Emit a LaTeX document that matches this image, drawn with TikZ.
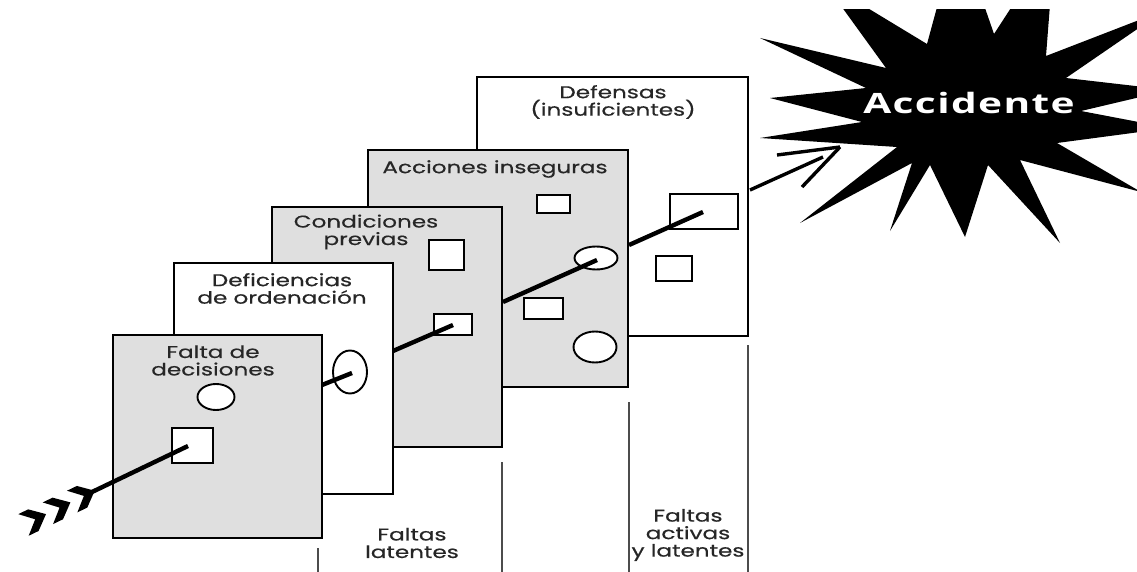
\documentclass[tikz,border=0pt]{standalone}
\usepackage{fontspec}
\setmainfont{Poppins}[FakeStretch=1.36, FakeBold=0.5]
\newfontfamily\accfont{Open Sans}[FakeStretch=1.45, LetterSpace=5]
\usetikzlibrary{shapes.geometric}
\definecolor{panelgray}{RGB}{223,223,223}
\begin{document}
\begin{tikzpicture}[x=1pt,y=-1pt,
  panel/.style={draw=black, line width=2.8pt},
  hole/.style={draw=black, line width=1.9pt, fill=white, inner sep=0pt, outer sep=0pt},
  rhole/.style={hole, rectangle},
  ehole/.style={hole, ellipse},
  shaft/.style={line width=4.4pt, line cap=butt},
  barb/.style={line width=3.4pt, line cap=butt},
  lbl/.style={font=\fontsize{17}{17.5}\selectfont, text=black!85, align=center, inner sep=0pt},
  guide/.style={draw=black!70, line width=1.3pt},
  chev/.style={fill=black}
]
\useasboundingbox (0,0) rectangle (1137,572);
\fill[white] (0,0) rectangle (1137,572);

% ---- star ----
\begin{scope}
\clip (700,10) rectangle (1137,300);
\fill[black] plot coordinates {
 (760,138) (862,122) (770,98) (866,88) (760,38) (886,68) (823,-19)
 (927,44) (958,-70) (994,34) (1055,-60) (1046,56) (1165,10)
 (1066,78) (1170,90) (1081,111) (1170,128) (1057,143) (1141,192)
 (1020,160) (1060,243) (988,165) (965,237) (930,165) (890,231)
 (912,163) (800,223) (897,147)} -- cycle;
\end{scope}
\node[font=\accfont\bfseries\fontsize{28}{28}\selectfont, text=white, inner sep=0pt] (acc) at (969,103) {Accidente};

% ---- guides and bottom labels ----
\coordinate (g1a) at (318,548); \coordinate (g1b) at (318,572);
\coordinate (g2a) at (502,462); \coordinate (g2b) at (502,572);
\coordinate (g3a) at (629,402); \coordinate (g3b) at (629,572);
\coordinate (g4a) at (748,345); \coordinate (g4b) at (748,572);
\draw[guide] (g1a) -- (g1b);
\draw[guide] (g2a) -- (g2b);
\draw[guide] (g3a) -- (g3b);
\draw[guide] (g4a) -- (g4b);
\node[lbl] (flat) at (412,543) {Faltas\\latentes};
\node[lbl] (fact) at (688,535) {Faltas\\activas\\y latentes};

% ---- panel 5: Defensas ----
\draw[panel, fill=white] (477,77) rectangle (748,336);
\node[lbl] (t5) at (613,102) {Defensas\\(insuficientes)};
\node[rhole, minimum width=68pt, minimum height=35pt] (h5a) at (704,211.5) {};
\node[rhole, minimum width=36pt, minimum height=25pt] (h5b) at (674,268.5) {};
\coordinate (e5) at (629,245);
\coordinate (x5) at (703,212);
\draw[shaft] (e5) -- (x5);
% exit arrow
\coordinate (e6) at (750,190);
\coordinate (x6) at (823,157);
\coordinate (tip) at (840,147);
\coordinate (b1) at (777,155);
\coordinate (b2) at (802,187);
\draw[barb] (e6) -- (x6);
\draw[barb] (b1) -- (tip);
\draw[barb] (b2) -- (tip);

% ---- panel 4: Acciones inseguras ----
\draw[panel, fill=panelgray] (368,150) rectangle (628,387);
\node[lbl] (t4) at (495,169) {Acciones inseguras};
\node[rhole, minimum width=33pt, minimum height=18pt] (h4a) at (553.5,204) {};
\node[ehole, minimum width=43pt, minimum height=23pt] (h4b) at (596,258) {};
\node[rhole, minimum width=39pt, minimum height=21pt] (h4c) at (543.5,308.5) {};
\node[ehole, minimum width=43pt, minimum height=31pt] (h4d) at (595,347) {};
\coordinate (e4) at (503,302);
\coordinate (x4) at (597,260);
\draw[shaft] (e4) -- (x4);

% ---- panel 3: Condiciones previas ----
\draw[panel, fill=panelgray] (272,207) rectangle (502,447);
\node[lbl] (t3) at (366,232) {Condiciones\\previas};
\node[rhole, minimum width=35pt, minimum height=30pt] (h3a) at (446.5,255) {};
\node[rhole, minimum width=38pt, minimum height=21pt] (h3b) at (453,324.5) {};
\coordinate (e3) at (393,351);
\coordinate (x3) at (453,325);
\draw[shaft] (e3) -- (x3);

% ---- panel 2: Deficiencias de ordenacion ----
\draw[panel, fill=white] (174,263) rectangle (393,494);
\node[lbl] (t2) at (282,288.5) {Deficiencias\\de ordenación};
\node[ehole, minimum width=34pt, minimum height=43pt] (h2a) at (350,372) {};
\coordinate (e2) at (322,385);
\coordinate (x2) at (352,373);
\draw[shaft] (e2) -- (x2);

% ---- panel 1: Falta de decisiones ----
\draw[panel, fill=panelgray] (113,335) rectangle (322,538);
\node[lbl] (t1) at (213,360.5) {Falta de\\decisiones};
\node[ehole, minimum width=37pt, minimum height=26pt] (h1a) at (216,397) {};
\node[rhole, minimum width=41pt, minimum height=35pt] (h1b) at (192.5,445.5) {};
\coordinate (e1) at (92,492);
\coordinate (x1) at (188,446);
\draw[shaft] (e1) -- (x1);

% fletching
\foreach \a/\b in {92/492, 67.7/503.7, 43.3/515.4}{
  \begin{scope}[shift={(\a,\b)}, rotate=25.7]
    \fill[chev] (3,0) -- (-11,-12) -- (-22,-12) -- (-9,0) -- (-22,12) -- (-11,12) -- cycle;
  \end{scope}
}
\end{tikzpicture}
\end{document}
